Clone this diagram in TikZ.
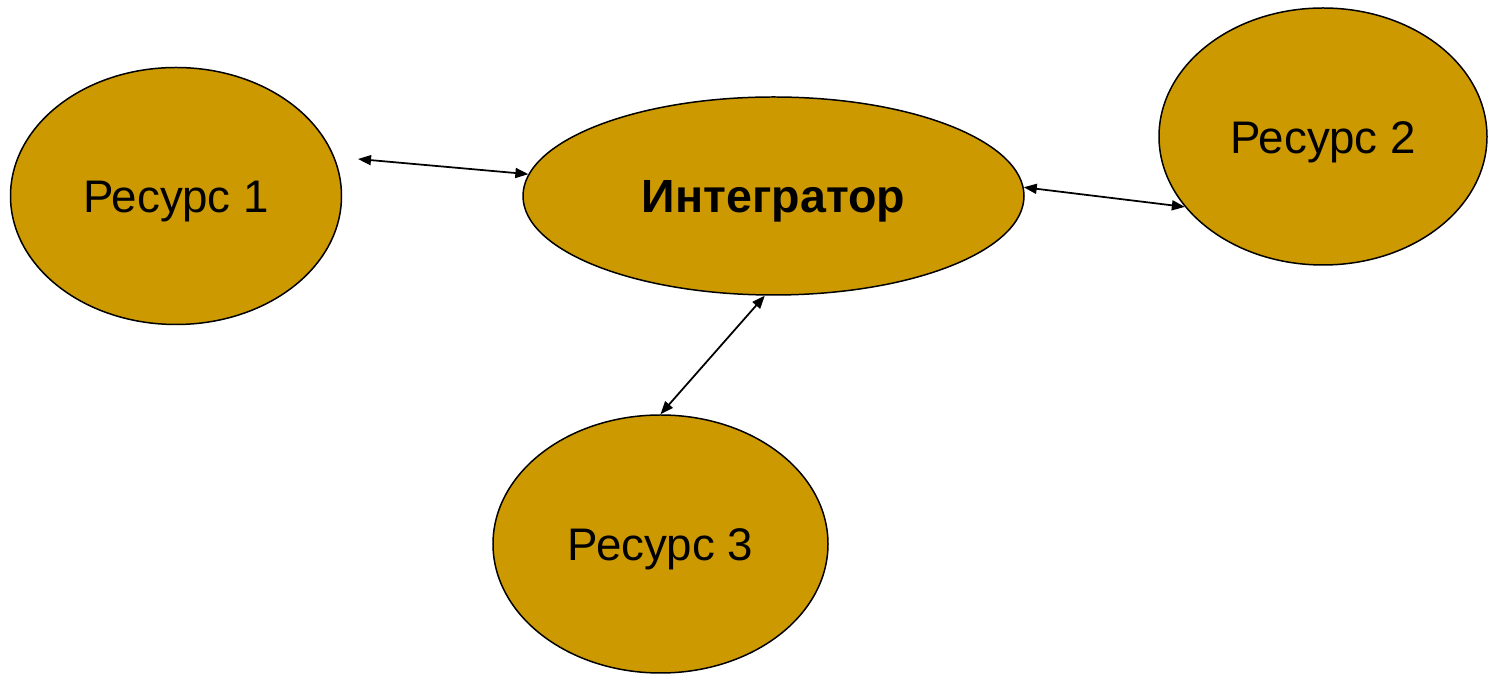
\documentclass[tikz,border=0pt]{standalone}
\usepackage{fontspec}
\setmainfont{Liberation Sans}
\usetikzlibrary{shapes.geometric,arrows.meta}
\definecolor{ochre}{HTML}{CC9900}

\begin{document}
\begin{tikzpicture}[every node/.style={ellipse, draw, line width=0.85pt, fill=ochre, inner sep=0pt, text height=0.88cm, text depth=0.2cm, font=\fontsize{26}{30}\selectfont},
        res/.style={minimum width=6.62cm, minimum height=5.14cm},
        link/.style={{Triangle[length=2.6mm,width=2mm]}-{Triangle[length=2.6mm,width=2mm]}, line width=1pt}]
    \useasboundingbox (0,0) rectangle (29.78,13.48);

    \node[res] (res1) at (3.52,9.56) {Ресурс 1};
    \node[minimum width=10.02cm, minimum height=3.96cm, font=\fontsize{26.5}{30}\selectfont\bfseries] (integ) at (15.47,9.56) {Интегратор};
    \node[res, minimum width=6.56cm] (res2) at (26.46,10.75) {Ресурс 2};
    \node[res, minimum width=6.7cm, minimum height=5.16cm] (res3) at (13.21,2.60) {Ресурс 3};

    \coordinate (free1) at (7.16,10.30);
    \draw[link] (free1) -- (integ);
    \draw[link] (integ.2) -- (res2.207);
    \draw[link] (integ.265) -- (res3.90);
\end{tikzpicture}
\end{document}
